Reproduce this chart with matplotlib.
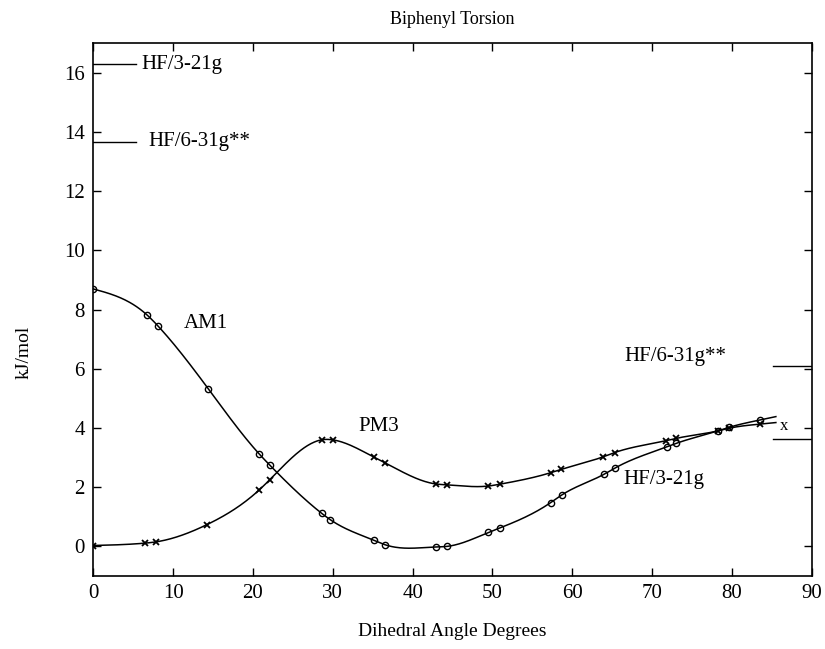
import numpy as np
import matplotlib
matplotlib.use("Agg")
import matplotlib.pyplot as plt

plt.rcParams['font.family'] = ['Liberation Serif', 'DejaVu Serif']

# AM1 (circles)
am1_angle = [0.0, 6.7, 8.07, 14.4, 20.8, 22.1, 28.6, 29.7, 35.2, 36.5, 42.9, 44.3,
             49.5, 50.9, 57.3, 58.7, 64.0, 65.3, 71.9, 73.0, 78.2, 79.6, 83.5]
am1_energy = [8.7, 7.83, 7.46, 5.33, 3.12, 2.75, 1.12, 0.9, 0.2, 0.06, -0.02, 0.0,
              0.47, 0.62, 1.48, 1.74, 2.44, 2.64, 3.37, 3.48, 3.9, 4.02, 4.27]

# PM3 (crosses)
pm3_angle = [0.0, 6.48, 7.8, 14.2, 20.8, 22.1, 28.6, 30.0, 35.2, 36.5, 42.9, 44.3,
             49.5, 50.9, 57.3, 58.6, 63.9, 65.3, 71.7, 73.0, 78.2, 79.6, 83.5]
pm3_energy = [0.03, 0.11, 0.15, 0.73, 1.91, 2.25, 3.6, 3.6, 3.01, 2.83, 2.11, 2.08,
              2.04, 2.1, 2.49, 2.6, 3.03, 3.17, 3.57, 3.65, 3.9, 3.99, 4.13]

# ab initio reference barriers (0 deg and 90 deg)
hf_names = ["HF/3-21g", "HF/6-31g**"]
hf_at_0 = [16.3, 13.67]
hf_at_90 = [3.63, 6.08]


def spline(x, y, xs):
    x = np.asarray(x, float)
    y = np.asarray(y, float)
    n = len(x)
    h = np.diff(x)
    A = np.zeros((n, n))
    r = np.zeros(n)
    A[0, 0] = 1
    A[-1, -1] = 1
    for i in range(1, n - 1):
        A[i, i - 1] = h[i - 1]
        A[i, i] = 2 * (h[i - 1] + h[i])
        A[i, i + 1] = h[i]
        r[i] = 3 * ((y[i + 1] - y[i]) / h[i] - (y[i] - y[i - 1]) / h[i - 1])
    c = np.linalg.solve(A, r)
    b = (y[1:] - y[:-1]) / h - h * (2 * c[:-1] + c[1:]) / 3
    d = (c[1:] - c[:-1]) / (3 * h)
    idx = np.clip(np.searchsorted(x, xs) - 1, 0, n - 2)
    dx = xs - x[idx]
    return y[idx] + b[idx] * dx + c[idx] * dx ** 2 + d[idx] * dx ** 3


fig = plt.figure(figsize=(8.25, 6.49), dpi=100)
ax = fig.add_axes([0.113, 0.1125, 0.871, 0.8208])

xs = np.linspace(0, 85.5, 600)
ax.plot(xs, spline(am1_angle, am1_energy, xs), color='black', lw=1.1)
ax.plot(xs, spline(pm3_angle, pm3_energy, xs), color='black', lw=1.1)
ax.plot(am1_angle, am1_energy, 'o', ms=4.5, mfc='none', mec='black', mew=1.0)
ax.plot(pm3_angle, pm3_energy, 'x', ms=4.5, color='black', mew=1.3)

# reference levels
ax.plot([0, 5.3], [hf_at_0[0]] * 2, color='black', lw=1.0)
ax.plot([0, 5.3], [hf_at_0[1]] * 2, color='black', lw=1.0)
ax.plot([85.2, 90], [hf_at_90[0]] * 2, color='black', lw=1.0)
ax.plot([85.2, 90], [hf_at_90[1]] * 2, color='black', lw=1.0)

fs = 15
ax.text(6.0, hf_at_0[0], hf_names[0], fontsize=fs, ha='left', va='center')
ax.text(6.9, hf_at_0[1], hf_names[1], fontsize=fs, ha='left', va='center')
ax.text(66.5, 6.4, hf_names[1], fontsize=fs, ha='left', va='center')
ax.text(66.4, 2.25, hf_names[0], fontsize=fs, ha='left', va='center')
ax.text(11.3, 7.52, "AM1", fontsize=fs, ha='left', va='center')
ax.text(33.2, 4.04, "PM3", fontsize=fs, ha='left', va='center')
ax.text(86.0, 4.06, "x", fontsize=12, ha='left', va='center')

ax.set_xlim(0, 90)
ax.set_ylim(-1, 17)
ax.set_xticks(np.arange(0, 91, 10))
ax.set_yticks(np.arange(0, 17, 2))
ax.tick_params(direction='in', length=6, width=1, top=True, right=True,
               labelsize=fs, pad=6)
for s in ax.spines.values():
    s.set_linewidth(1.2)

ax.set_title("Biphenyl Torsion", fontsize=13, pad=14)
ax.set_xlabel("Dihedral Angle Degrees", fontsize=14, labelpad=14)
ax.set_ylabel("kJ/mol", fontsize=14, labelpad=22)
ax.yaxis.set_label_coords(-0.085, 0.42)

fig.savefig("out.png", dpi=100)
